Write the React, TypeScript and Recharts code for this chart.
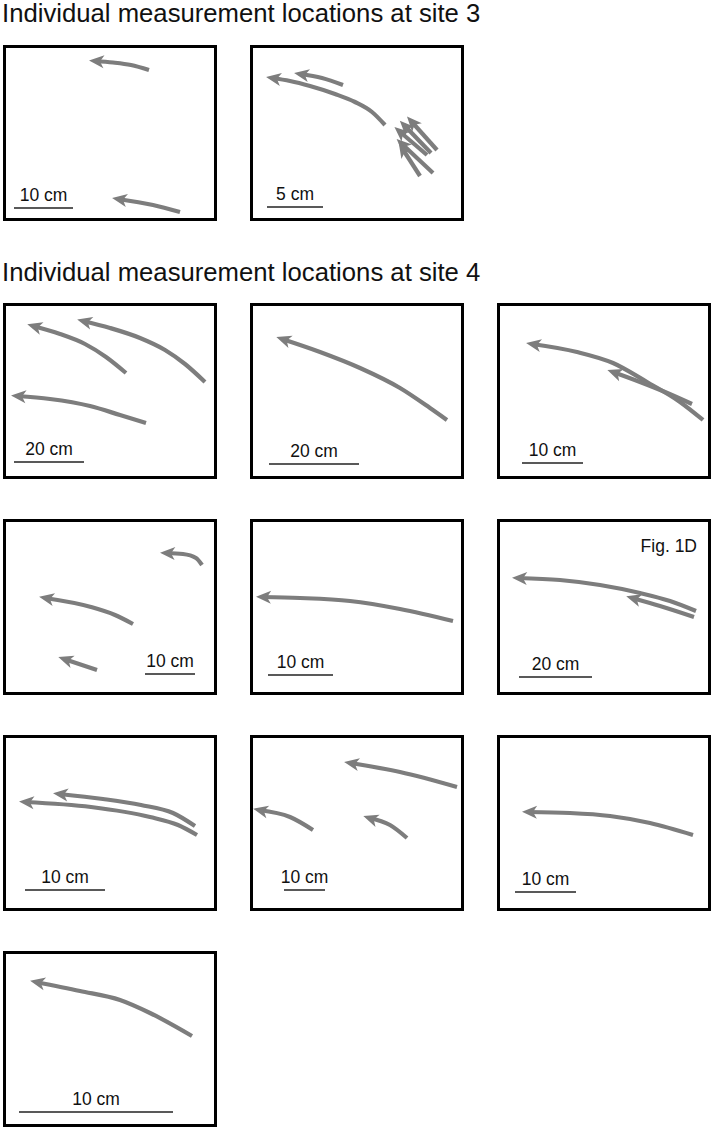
import React from 'react';
import { LineChart, Line, XAxis, YAxis, ReferenceLine } from 'recharts';

const FONT = '"Liberation Sans", Arial, Helvetica, sans-serif';
const ARROW = '#7d7d7d';

// each arrow is a list of [x, y] positions inside its panel, tail first, head last
type Arrow = [number, number][];

// Site 3
const site3Left: Arrow[] = [
  [[146, 25], [128, 20], [110, 17.5], [92, 16]],
  [[177, 167], [150, 160], [115, 154]],
];
const site3Right: Arrow[] = [
  [[135, 80], [122, 67], [105, 57], [85, 49], [60, 41], [40, 36], [22, 33]],
  [[93, 40], [72, 33], [50, 29]],
  [[187, 105], [161, 76]],
  [[181, 108], [154, 80]],
  [[177, 110], [149, 86]],
  [[183, 128], [151, 98]],
  [[170, 131], [152, 103]],
];

// Site 4, row by row
const s4r1a: Arrow[] = [
  [[123, 70], [103, 54], [82, 41], [57, 31], [30, 23]],
  [[202, 79], [182, 61], [162, 47], [137, 35], [107, 25], [80, 18]],
  [[143, 120], [117, 112], [87, 103], [47, 96], [14, 93]],
];
const s4r1b: Arrow[] = [
  [[197, 117], [180, 105], [150, 85], [110, 65], [70, 49], [32, 36]],
];
const s4r1c: Arrow[] = [
  [[206, 117], [183, 99], [150, 79], [116, 60], [80, 49], [35, 41]],
  [[195, 101], [168, 89], [143, 79], [116, 69]],
];
const s4r2a: Arrow[] = [
  [[199, 46], [193, 39], [180, 35], [163, 34]],
  [[130, 105], [112, 96], [88, 88], [42, 79]],
  [[94, 151], [61, 140]],
];
const s4r2b: Arrow[] = [
  [[203, 102], [150, 90], [100, 82], [50, 79], [12, 78]],
];
const s4r2c: Arrow[] = [
  [[199, 92], [173, 82], [143, 74], [103, 66], [63, 61], [21, 59]],
  [[197, 98], [163, 87], [135, 79]],
];
const s4r3a: Arrow[] = [
  [[194, 100], [175, 90], [147, 82], [88, 72], [22, 67]],
  [[192, 91], [170, 78], [138, 70], [100, 64], [56, 59]],
];
const s4r3b: Arrow[] = [
  [[207, 52], [150, 37], [100, 28]],
  [[63, 95], [40, 82], [9, 75]],
  [[157, 103], [140, 90], [119, 83]],
];
const s4r3c: Arrow[] = [
  [[196, 100], [153, 88], [113, 81], [73, 78], [31, 77]],
];
const s4r4a: Arrow[] = [
  [[189, 85], [147, 62], [117, 49], [77, 40], [33, 31]],
];

// scale bars: [x1, x2, y]
const scaleBars: [number, number, number][] = [
  [11, 70, 163], [17, 73, 162],
  [11, 81, 159], [19, 109, 161], [25, 86, 160],
  [142, 192, 155], [18, 83, 156], [22, 95, 158],
  [22, 102, 155], [34, 75, 155], [18, 79, 157],
  [16, 170, 161],
];
const scaleLabels = [
  '10 cm', '5 cm',
  '20 cm', '20 cm', '10 cm',
  '10 cm', '10 cm', '20 cm',
  '10 cm', '10 cm', '10 cm',
  '10 cm',
];

const toPts = (a: Arrow) => a.map(([x, y]) => ({ x, y }));

const renderHead = (props: any, pts: { x: number; y: number }[]) => {
  const { cx, cy, index } = props;
  if (index !== pts.length - 1 || cx == null) return <g key={`d-${index}`} />;
  const prev = pts[pts.length - 2];
  const cur = pts[pts.length - 1];
  const ang = (Math.atan2(cur.y - prev.y, cur.x - prev.x) * 180) / Math.PI;
  return (
    <path
      key={`d-${index}`}
      d="M6,0 L-9,-6.5 L-5,0 L-9,6.5 Z"
      fill={ARROW}
      transform={`translate(${cx},${cy}) rotate(${ang})`}
    />
  );
};

const Panel = ({ left, top, arrows, bar, children }: any) => {
  const [x1, x2, y] = scaleBars[bar];
  return (
    <div style={{ position: 'absolute', left, top, width: 214, height: 176, border: '3px solid #000', boxSizing: 'border-box' }}>
      <LineChart width={208} height={170} margin={{ top: 0, right: 0, bottom: 0, left: 0 }}>
        <XAxis type="number" dataKey="x" domain={[3, 211]} hide allowDataOverflow />
        <YAxis type="number" domain={[3, 173]} reversed hide allowDataOverflow />
        {arrows.map((a: Arrow, i: number) => {
          const pts = toPts(a);
          return (
            <Line
              key={i}
              data={pts}
              dataKey="y"
              type="monotoneX"
              stroke={ARROW}
              strokeWidth={4.2}
              dot={(p: any) => renderHead(p, pts)}
              activeDot={false}
              isAnimationActive={false}
            />
          );
        })}
        <ReferenceLine
          segment={[{ x: x1, y }, { x: x2, y }]}
          stroke="#222"
          strokeWidth={1.5}
          label={{ value: scaleLabels[bar], position: 'top', offset: 7, fill: '#111', fontSize: 17.5, fontFamily: FONT }}
        />
      </LineChart>
      {children}
    </div>
  );
};

const titleStyle: React.CSSProperties = {
  position: 'absolute', left: 2, fontFamily: FONT, fontSize: 25.7, lineHeight: 1, color: '#111', whiteSpace: 'nowrap',
};

export default function App() {
  return (
    <div style={{ position: 'absolute', left: 0, top: 0, width: 712, height: 1129, background: '#fff', overflow: 'hidden' }}>
      <div style={{ ...titleStyle, top: 1 }}>Individual measurement locations at site 3</div>
      <Panel left={3} top={45} arrows={site3Left} bar={0} />
      <Panel left={250} top={45} arrows={site3Right} bar={1} />

      <div style={{ ...titleStyle, top: 260 }}>Individual measurement locations at site 4</div>
      <Panel left={3} top={303} arrows={s4r1a} bar={2} />
      <Panel left={250} top={303} arrows={s4r1b} bar={3} />
      <Panel left={497} top={303} arrows={s4r1c} bar={4} />

      <Panel left={3} top={519} arrows={s4r2a} bar={5} />
      <Panel left={250} top={519} arrows={s4r2b} bar={6} />
      <Panel left={497} top={519} arrows={s4r2c} bar={7}>
        <div style={{ position: 'absolute', right: 11, top: 16, fontFamily: FONT, fontSize: 17.5, lineHeight: 1, color: '#111' }}>Fig. 1D</div>
      </Panel>

      <Panel left={3} top={735} arrows={s4r3a} bar={8} />
      <Panel left={250} top={735} arrows={s4r3b} bar={9} />
      <Panel left={497} top={735} arrows={s4r3c} bar={10} />

      <Panel left={3} top={951} arrows={s4r4a} bar={11} />
    </div>
  );
}
